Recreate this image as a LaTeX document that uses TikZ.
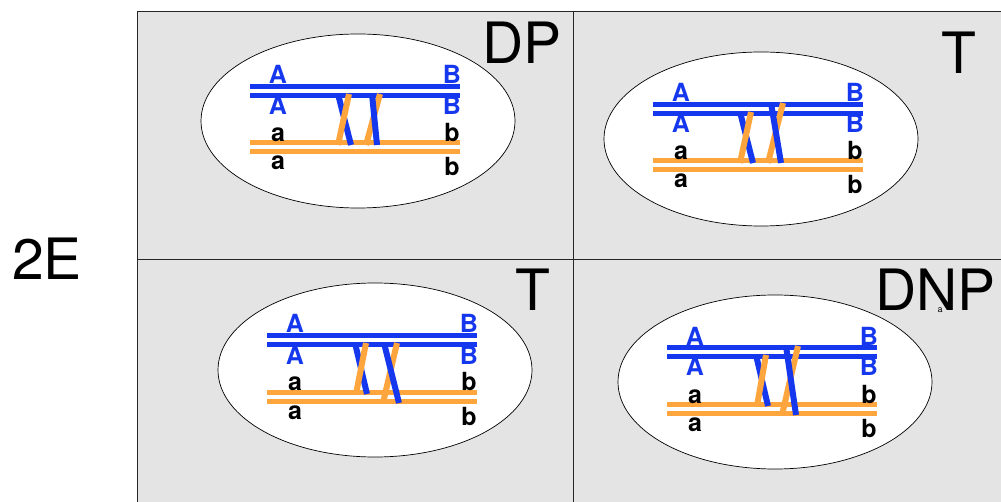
\documentclass[tikz,border=0pt]{standalone}
\usepackage{fontspec}
\setmainfont{TeX Gyre Heros}
\definecolor{chromblue}{HTML}{1538EE}
\definecolor{chromorange}{HTML}{FFA53E}
\definecolor{panelgrey}{HTML}{E4E4E4}

% One bivalent in its cell: two blue and two orange chromatids with allele labels.
% Local frame: first blue chromatid at y=0, left end at x=0.
\newcommand\bivalent[1]{%
  \path[cell] (108,34) ellipse [x radius=157pt, y radius=87pt];
  \draw[bluestrand] (0,0) -- (210,0);
  \draw[bluestrand] (0,9) -- (210,9);
  \draw[orangestrand] (0,56) -- (210,56);
  \draw[orangestrand] (0,65) -- (210,65);
  \node[upperallele] (#1-A1) at (28,-3) {A};
  \node[upperallele] (#1-A2) at (28,28) {A};
  \node[lowerallele] (#1-a1) at (28,55) {a};
  \node[lowerallele] (#1-a2) at (28,83) {a};
  \node[upperallele] (#1-B1) at (202,-3) {B};
  \node[upperallele] (#1-B2) at (202,28) {B};
  \node[lowerallele] (#1-b1) at (202,55) {b};
  \node[lowerallele] (#1-b2) at (202,89) {b};
}

\begin{document}
\begin{tikzpicture}[x=1pt,y=-1pt,
  bluestrand/.style={draw=chromblue, line width=5pt},
  orangestrand/.style={draw=chromorange, line width=5pt},
  crossing/.style={line width=6pt},
  cell/.style={draw=black, line width=0.7pt, fill=white},
  frame/.style={draw=black!85, line width=0.8pt},
  biglabel/.style={inner sep=0pt, font=\fontsize{57}{62}\selectfont},
  upperallele/.style={inner sep=0pt, anchor=base, text=chromblue, font=\bfseries\fontsize{25}{27}\selectfont},
  lowerallele/.style={inner sep=0pt, anchor=base, text=black, font=\bfseries\fontsize{25}{27}\selectfont},
]
\useasboundingbox (0,0) rectangle (1001,502);
\fill[white] (0,0) rectangle (1001,502);

% panels
\fill[panelgrey] (137,11) rectangle (1001,502);
\draw[frame] (137,502) -- (137,11) -- (1001,11);
\draw[frame] (573,11) -- (573,502);
\draw[frame] (137,259) -- (1001,259);

\node[biglabel] (row) at (47,259) {2E};

% two-strand double crossover
\begin{scope}[shift={(250,87)}]
  \bivalent{dp}
  \draw[bluestrand, crossing] (88,7) -- (101,58);
  \draw[orangestrand, crossing] (88,58) -- (99,7);
  \draw[orangestrand, crossing] (116,58) -- (130,7);
  \draw[bluestrand, crossing] (122,7) -- (127,58);
\end{scope}
\node[biglabel] (dp) at (522,43) {DP};

% three-strand double crossover
\begin{scope}[shift={(653,105)}]
  \bivalent{ta}
  \draw[bluestrand, crossing] (87,7) -- (100,58);
  \draw[orangestrand, crossing] (87,58) -- (98,7);
  \draw[orangestrand, crossing] (115,58) -- (130,-2);
  \draw[bluestrand, crossing] (118,-2) -- (128,58);
\end{scope}
\node[biglabel] (ta) at (959,53) {T};

% three-strand double crossover
\begin{scope}[shift={(267,336)}]
  \bivalent{tb}
  \draw[bluestrand, crossing] (88,7) -- (100,58);
  \draw[orangestrand, crossing] (89,58) -- (99,7);
  \draw[orangestrand, crossing] (116,67) -- (130,7);
  \draw[bluestrand, crossing] (117,7) -- (132,67);
\end{scope}
\node[biglabel] (tb) at (533,290) {T};

% four-strand double crossover
\begin{scope}[shift={(667,348)}]
  \bivalent{dnp}
  \draw[bluestrand, crossing] (89,7) -- (101,58);
  \draw[orangestrand, crossing] (90,58) -- (99,7);
  \draw[orangestrand, crossing] (115,67) -- (131,-2);
  \draw[bluestrand, crossing] (119,-2) -- (129,67);
\end{scope}
\node[biglabel, anchor=west] (dnp) at (875,290) {DNP};
\node[inner sep=0pt, font=\fontsize{9}{10}\selectfont] (dnpmark) at (940,310) {a};

\end{tikzpicture}
\end{document}
